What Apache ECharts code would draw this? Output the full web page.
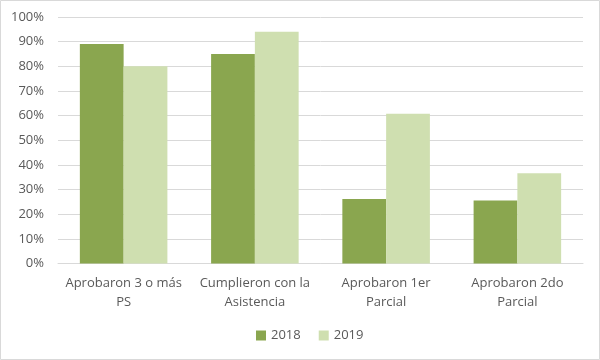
<!DOCTYPE html>
<html><head><meta charset="utf-8">
<script src="https://cdn.jsdelivr.net/npm/echarts@6/dist/echarts.min.js"></script>
<style>html,body{margin:0;padding:0;background:#fff}#c{width:600px;height:360px}</style>
</head><body><div id="c"></div>
<script>
const categories = ["Aprobaron 3 o más\nPS", "Cumplieron con la\nAsistencia", "Aprobaron 1er\nParcial", "Aprobaron 2do\nParcial"];
const series2018 = [0.89, 0.85, 0.262, 0.256];
const series2019 = [0.80, 0.94, 0.608, 0.366];
const seriesNames = ["2018", "2019"];

const chart = echarts.init(document.getElementById('c'), null, {renderer: 'canvas'});
const font = "'Open Sans', 'Liberation Sans', sans-serif";
chart.setOption({
  animation: false,
  graphic: [{type: 'rect', shape: {x: 0.5, y: 0.5, width: 599, height: 359}, style: {fill: 'none', stroke: '#d9d9d9', lineWidth: 1}, silent: true}],
  grid: {left: 58, right: 17, top: 17, bottom: 96.5, containLabel: false},
  legend: {
    data: seriesNames, bottom: 13, left: 251, itemWidth: 10, itemHeight: 10, itemGap: 18,
    icon: 'rect',
    textStyle: {color: '#595959', fontSize: 13, fontFamily: font}
  },
  xAxis: {
    type: 'category', data: categories,
    axisLine: {lineStyle: {color: '#d9d9d9'}}, axisTick: {show: false},
    axisLabel: {color: '#595959', fontSize: 13, fontFamily: font, lineHeight: 19, margin: 10, interval: 0}
  },
  yAxis: {
    type: 'value', min: 0, max: 1, interval: 0.1,
    axisLabel: {color: '#595959', fontSize: 13, fontFamily: font, margin: 14,
      formatter: v => Math.round(v * 100) + '%'},
    splitLine: {lineStyle: {color: '#d9d9d9'}},
    axisLine: {show: false}, axisTick: {show: false}
  },
  series: [
    {name: seriesNames[0], type: 'bar', data: series2018, itemStyle: {color: '#8aa64f'}, barGap: '0%', barCategoryGap: '33.3%'},
    {name: seriesNames[1], type: 'bar', data: series2019, itemStyle: {color: '#cfdfb0'}, barGap: '0%', barCategoryGap: '33.3%'}
  ]
});
</script></body></html>
